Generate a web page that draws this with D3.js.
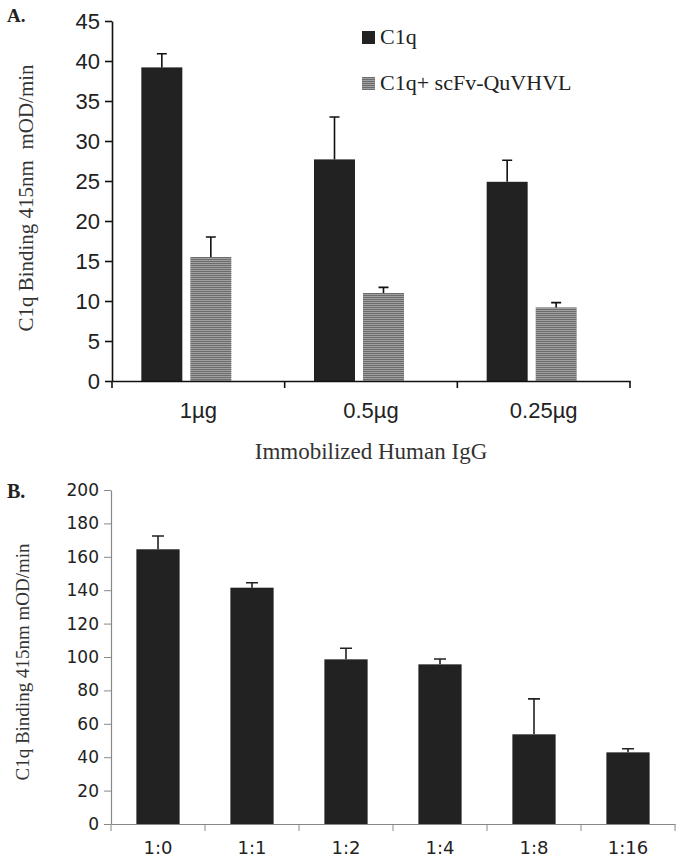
<!DOCTYPE html>
<html>
<head>
<meta charset="utf-8">
<script src="https://cdn.jsdelivr.net/npm/d3@7"></script>
<style>
  body { margin: 0; background: #fff; }
  svg { display: block; }
</style>
</head>
<body>
<div id="chart_area"></div>
<script>
// panel A data
const doseLabels = ['1µg', '0.5µg', '0.25µg'];
const seriesNames = ['C1q', 'C1q+ scFv-QuVHVL'];
const c1qMeans = [39.2, 27.7, 24.9];
const c1qErr = [1.7, 5.3, 2.7];
const blockedMeans = [15.5, 11.0, 9.2];
const blockedErr = [2.5, 0.7, 0.6];
const yTicksA = [0, 5, 10, 15, 20, 25, 30, 35, 40, 45];

// panel B data
const ratioLabels = ['1:0', '1:1', '1:2', '1:4', '1:8', '1:16'];
const ratioMeans = [164.5, 141.5, 98.6, 95.6, 53.7, 42.9];
const ratioErr = [8.0, 3.0, 6.6, 3.2, 21.2, 2.2];
const yTicksB = [0, 20, 40, 60, 80, 100, 120, 140, 160, 180, 200];

const serif = '"Liberation Serif", "Times New Roman", serif';

const svg = d3
  .select('#chart_area')
  .append('svg')
  .attr('width', 682)
  .attr('height', 864);

// stripe pattern for the grey bars
const pat = svg
  .append('defs')
  .append('pattern')
  .attr('id', 'stripes')
  .attr('patternUnits', 'userSpaceOnUse')
  .attr('width', 4)
  .attr('height', 2);
pat.append('rect').attr('width', 4).attr('height', 2).attr('fill', '#a0a0a0');
pat.append('rect').attr('width', 4).attr('height', 1).attr('fill', '#6c6c6c');

// ---------- panel A ----------
const wA = 518;
const hA = 360;
const gA = svg.append('g').attr('transform', 'translate(112,21)');

const xA = d3.scaleBand().domain(doseLabels).range([0, wA]);
const yA = d3.scaleLinear().domain([0, 45]).range([hA, 0]);
const sub = d3.scaleBand().domain(seriesNames).range([0, 90]).paddingInner(0.1633);

const rowsA = doseLabels.map((d, i) => ({
  dose: d,
  vals: [
    { s: seriesNames[0], v: c1qMeans[i], e: c1qErr[i] },
    { s: seriesNames[1], v: blockedMeans[i], e: blockedErr[i] },
  ],
}));

// y axis
const yAxisA = gA
  .append('g')
  .call(d3.axisLeft(yA).tickValues(yTicksA).tickSize(7).tickSizeOuter(0));
yAxisA.selectAll('text')
  .attr('font-family', '"Liberation Sans", Arial, sans-serif')
  .attr('font-size', '22px')
  .attr('fill', '#222')
  .attr('x', -12);

// bars
const groups = gA
  .selectAll('g.dose')
  .data(rowsA)
  .enter()
  .append('g')
  .attr('class', 'dose')
  .attr('transform', d => 'translate(' + (xA(d.dose) + (xA.bandwidth() - 90) / 2 - 12) + ',0)');

groups
  .selectAll('rect')
  .data(d => d.vals)
  .enter()
  .append('rect')
  .attr('x', d => sub(d.s))
  .attr('y', d => yA(d.v))
  .attr('width', sub.bandwidth())
  .attr('height', d => hA - yA(d.v))
  .attr('fill', (d, i) => (i === 0 ? '#222' : 'url(#stripes)'));

// error bars (upper only)
groups
  .selectAll('path.err')
  .data(d => d.vals)
  .enter()
  .append('path')
  .attr('class', 'err')
  .attr('d', d => {
    const cx = sub(d.s) + sub.bandwidth() / 2;
    return 'M' + cx + ',' + yA(d.v) + 'V' + yA(d.v + d.e) + 'M' + (cx - 5) + ',' + yA(d.v + d.e) + 'H' + (cx + 5);
  })
  .attr('stroke', '#111')
  .attr('stroke-width', 1.6)
  .attr('fill', 'none');

// x axis
const xAxisA = gA
  .append('g')
  .attr('transform', 'translate(0,' + hA + ')')
  .call(d3.axisBottom(xA).tickSize(0).tickPadding(21));
xAxisA.selectAll('text')
  .attr('font-family', '"Liberation Sans", Arial, sans-serif')
  .attr('font-size', '22px')
  .attr('fill', '#222');
xAxisA
  .selectAll('line.sep')
  .data(d3.range(doseLabels.length + 1))
  .enter()
  .append('line')
  .attr('class', 'sep')
  .attr('x1', i => i * xA.step())
  .attr('x2', i => i * xA.step())
  .attr('y1', 0)
  .attr('y2', 7)
  .attr('stroke', '#111')
  .attr('stroke-width', 1.6);
gA.selectAll('.domain').attr('stroke', '#111').attr('stroke-width', 1.6);
gA.selectAll('.tick line').attr('stroke', '#111').attr('stroke-width', 1.6);

// titles
svg.append('text')
  .attr('transform', 'translate(33,198) rotate(-90)')
  .attr('text-anchor', 'middle')
  .attr('font-family', serif)
  .attr('font-size', '21px')
  .attr('fill', '#333')
  .attr('xml:space', 'preserve')
  .text('C1q Binding 415nm  mOD/min');

svg.append('text')
  .attr('x', 371)
  .attr('y', 459)
  .attr('text-anchor', 'middle')
  .attr('font-family', serif)
  .attr('font-size', '23px')
  .attr('fill', '#333')
  .text('Immobilized Human IgG');

svg.append('text')
  .attr('x', 7)
  .attr('y', 22)
  .attr('font-family', serif)
  .attr('font-weight', 'bold')
  .attr('font-size', '19px')
  .attr('fill', '#222')
  .text('A.');

// legend
const legend = svg
  .selectAll('g.legend')
  .data(seriesNames)
  .enter()
  .append('g')
  .attr('class', 'legend')
  .attr('transform', (d, i) => 'translate(362,' + (31 + i * 46) + ')');
legend.append('rect')
  .attr('width', 13)
  .attr('height', 13)
  .attr('fill', (d, i) => (i === 0 ? '#222' : 'url(#stripes)'));
legend.append('text')
  .attr('x', 18)
  .attr('y', 13)
  .attr('font-family', serif)
  .attr('font-size', '22px')
  .attr('fill', '#222')
  .text(d => d);

// ---------- panel B ----------
const wB = 564;
const hB = 334;
const gB = svg.append('g').attr('transform', 'translate(111,490)');

const xB = d3.scaleBand().domain(ratioLabels).range([0, wB]).paddingInner(0.54).paddingOuter(0.27);
const yB = d3.scaleLinear().domain([0, 200]).range([hB, 0]);
const xTickB = d3.scaleBand().domain(ratioLabels).range([0, wB]);

const yAxisB = gB
  .append('g')
  .call(d3.axisLeft(yB).tickValues(yTicksB).tickSize(7).tickSizeOuter(0));
yAxisB.selectAll('text')
  .attr('font-family', '"DejaVu Sans", Verdana, sans-serif')
  .attr('font-size', '17px')
  .attr('fill', '#222')
  .attr('x', -12);

gB.selectAll('rect.bar')
  .data(ratioLabels)
  .enter()
  .append('rect')
  .attr('class', 'bar')
  .attr('x', d => xB(d))
  .attr('y', (d, i) => yB(ratioMeans[i]))
  .attr('width', xB.bandwidth())
  .attr('height', (d, i) => hB - yB(ratioMeans[i]))
  .attr('fill', '#222');

gB.selectAll('path.err')
  .data(ratioLabels)
  .enter()
  .append('path')
  .attr('class', 'err')
  .attr('d', (d, i) => {
    const cx = xB(d) + xB.bandwidth() / 2;
    const top = yB(ratioMeans[i] + ratioErr[i]);
    return 'M' + cx + ',' + yB(ratioMeans[i]) + 'V' + top + 'M' + (cx - 6) + ',' + top + 'H' + (cx + 6);
  })
  .attr('stroke', '#222')
  .attr('stroke-width', 1.6)
  .attr('fill', 'none');

const xAxisB = gB
  .append('g')
  .attr('transform', 'translate(0,' + hB + ')')
  .call(d3.axisBottom(xTickB).tickSize(0).tickPadding(17));
xAxisB.selectAll('text')
  .attr('font-family', '"DejaVu Sans", Verdana, sans-serif')
  .attr('font-size', '18px')
  .attr('fill', '#222');
xAxisB
  .selectAll('line.sep')
  .data(d3.range(ratioLabels.length + 1))
  .enter()
  .append('line')
  .attr('class', 'sep')
  .attr('x1', i => i * xTickB.step())
  .attr('x2', i => i * xTickB.step())
  .attr('y1', 0)
  .attr('y2', 7)
  .attr('stroke', '#888');
gB.selectAll('.domain').attr('stroke', '#888').attr('stroke-width', 1.2);
gB.selectAll('.tick line').attr('stroke', '#888');

svg.append('text')
  .attr('transform', 'translate(29,662) rotate(-90)')
  .attr('text-anchor', 'middle')
  .attr('font-family', serif)
  .attr('font-size', '19px')
  .attr('fill', '#333')
  .text('C1q Binding 415nm mOD/min');

svg.append('text')
  .attr('x', 7)
  .attr('y', 498)
  .attr('font-family', serif)
  .attr('font-weight', 'bold')
  .attr('font-size', '20px')
  .attr('fill', '#222')
  .text('B.');
</script>
</body>
</html>
